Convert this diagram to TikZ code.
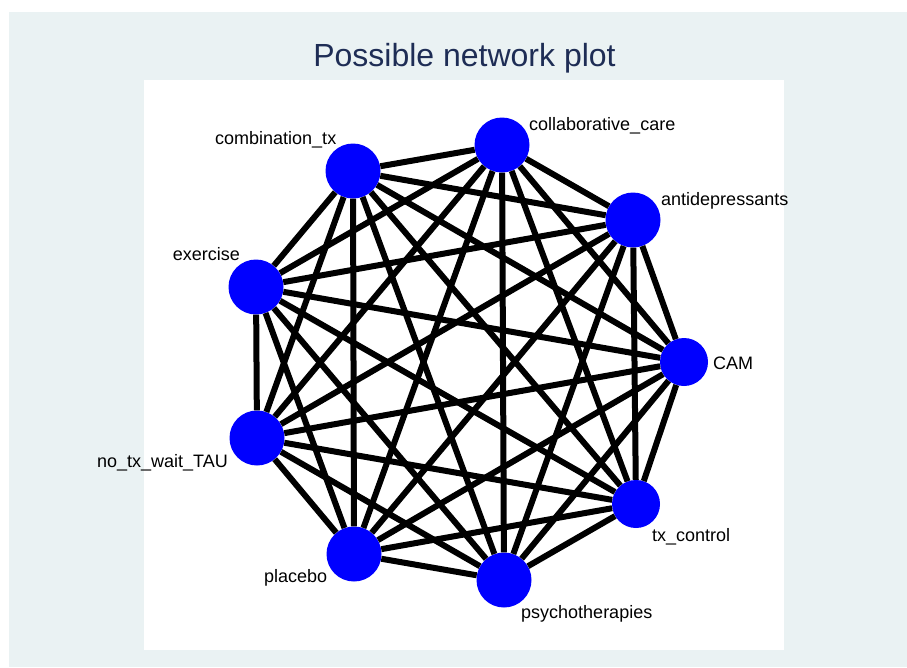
\documentclass[tikz,border=0pt]{standalone}
\usepackage{fontspec}
\setmainfont{Liberation Sans}
\definecolor{panelgrey}{RGB}{234,242,243}
\definecolor{titlenavy}{RGB}{30,45,85}
\begin{document}
\begin{tikzpicture}[x=1pt, y=-1pt]
    \useasboundingbox (0,0) rectangle (907,667);
    \fill[white] (0,0) rectangle (907,667);
    \fill[panelgrey] (9,12) rectangle (907,667);
    \fill[white] (144,80) rectangle (784,650);
    \node[anchor=base, text=titlenavy, font=\fontsize{32}{35}\selectfont] (title) at (464.5,66) {Possible network plot};

    \node[circle, inner sep=0pt, minimum size=55pt] (collab) at (502,145) [fill=blue] {};
    \node[circle, inner sep=0pt, minimum size=55pt] (antidep) at (633,220) [fill=blue] {};
    \node[circle, inner sep=0pt, minimum size=48pt] (cam) at (684,362) [fill=blue] {};
    \node[circle, inner sep=0pt, minimum size=48pt] (txctrl) at (636,504) [fill=blue] {};
    \node[circle, inner sep=0pt, minimum size=55pt] (psycho) at (504,580) [fill=blue] {};
    \node[circle, inner sep=0pt, minimum size=55pt] (placebo) at (354,554) [fill=blue] {};
    \node[circle, inner sep=0pt, minimum size=55pt] (notx) at (257,438) [fill=blue] {};
    \node[circle, inner sep=0pt, minimum size=55pt] (exer) at (256,287) [fill=blue] {};
    \node[circle, inner sep=0pt, minimum size=55pt] (combo) at (353,171) [fill=blue] {};

    \foreach \source/\dest in {collab/antidep, collab/cam, collab/txctrl, collab/psycho, collab/placebo, collab/notx, collab/exer, collab/combo, antidep/cam, antidep/txctrl, antidep/psycho, antidep/placebo, antidep/notx, antidep/exer, antidep/combo, cam/txctrl, cam/psycho, cam/placebo, cam/notx, cam/exer, cam/combo, txctrl/psycho, txctrl/placebo, txctrl/notx, txctrl/exer, txctrl/combo, psycho/placebo, psycho/notx, psycho/exer, psycho/combo, placebo/notx, placebo/exer, placebo/combo, notx/exer, notx/combo, exer/combo}
      \path[line width=6pt] (\source) edge (\dest);

    \node[anchor=base west, inner sep=0pt, font=\fontsize{18}{20}\selectfont] (collablabel) at (529,130) {collaborative\_care};
    \node[anchor=base west, inner sep=0pt, font=\fontsize{18}{20}\selectfont] (antideplabel) at (661,205) {antidepressants};
    \node[anchor=base west, inner sep=0pt, font=\fontsize{18}{20}\selectfont] (camlabel) at (713,369) {CAM};
    \node[anchor=base west, inner sep=0pt, font=\fontsize{18}{20}\selectfont] (txctrllabel) at (652,541) {tx\_control};
    \node[anchor=base west, inner sep=0pt, font=\fontsize{18}{20}\selectfont] (psycholabel) at (521,618) {psychotherapies};
    \node[anchor=base west, inner sep=0pt, font=\fontsize{18}{20}\selectfont] (placebolabel) at (264,582) {placebo};
    \node[anchor=base east, inner sep=0pt, font=\fontsize{18}{20}\selectfont] (notxlabel) at (228,467) {no\_tx\_wait\_TAU};
    \node[anchor=base east, inner sep=0pt, font=\fontsize{18}{20}\selectfont] (exerlabel) at (240,260) {exercise};
    \node[anchor=base west, inner sep=0pt, font=\fontsize{18}{20}\selectfont] (combolabel) at (215,144) {combination\_tx};
\end{tikzpicture}
\end{document}
